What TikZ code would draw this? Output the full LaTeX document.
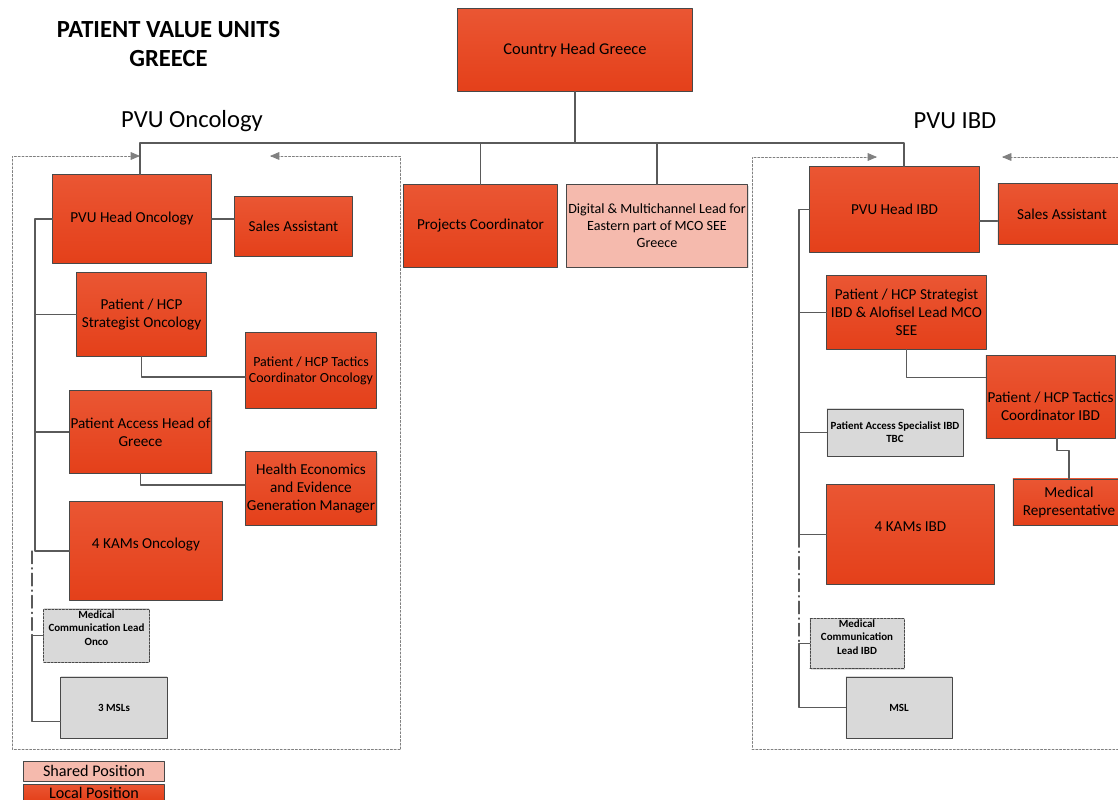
\documentclass[tikz,border=0pt]{standalone}
\usepackage{fontspec}
\setmainfont{Carlito}
\usetikzlibrary{arrows}
\usetikzlibrary{shadows}

\definecolor{pvutop}{HTML}{EA5633}
\definecolor{pvubot}{HTML}{E4401A}
\definecolor{pvushared}{HTML}{F5BAAD}
\definecolor{pvugray}{HTML}{D9D9D9}
\definecolor{pvuline}{HTML}{5A5A5A}

\begin{document}
\begin{tikzpicture}[line cap=round,line join=round,>=triangle 45,x=0.025cm,y=-0.025cm,
  local/.style={draw=pvuline!80!black, line width=0.7pt, top color=pvutop, bottom color=pvubot, align=center, inner sep=1pt, font=\fontsize{10.8}{12.8}\selectfont, drop shadow={shadow xshift=1pt, shadow yshift=-1pt, opacity=0.25}},
  shared/.style={local, top color=pvushared, bottom color=pvushared},
  vacant/.style={local, top color=pvugray, bottom color=pvugray, font=\fontsize{7.8}{9.4}\selectfont\bfseries},
  interim/.style={vacant, dash pattern=on 1.5pt off 1pt},
  con/.style={draw=pvuline, line width=0.9pt},
  unitframe/.style={draw=gray, line width=0.5pt, dash pattern=on 1.5pt off 1.2pt},
  dotline/.style={con, dash pattern=on 9pt off 3pt on 0.8pt off 3pt}]
\useasboundingbox (0,0) rectangle (1118,800);

\node[font=\fontsize{17.5}{20.6}\selectfont\bfseries, align=center] (ttl) at (168.5,44) {PATIENT VALUE UNITS\\GREECE};
\node[font=\fontsize{17.5}{20}\selectfont] (oncunit) at (192,121) {PVU Oncology};
\node[font=\fontsize{17.5}{20}\selectfont] (ibdunit) at (955,121) {PVU IBD};

\draw[unitframe,->] (400,749) -- (12,749) -- (12,156) -- (140,156);
\draw[unitframe,->] (400,749) -- (400,156) -- (270,156);
\draw[unitframe,->] (1130,749) -- (752,749) -- (752,157) -- (877,157);
\draw[unitframe,->] (1130,157) -- (1002,157);

\node[local, minimum width=5.85cm, minimum height=2.05cm, font=\fontsize{11.7}{14}\selectfont] (country) at (575,50) {Country Head Greece};
\node[local, minimum width=3.825cm, minimum height=2.05cm] (projects) at (480.5,226) {Projects Coordinator};
\node[shared, minimum width=4.4cm, minimum height=2.05cm, font=\fontsize{10}{12}\selectfont] (digital) at (657,226) {Digital \& Multichannel Lead for\\Eastern part of MCO SEE\\Greece};

\node[local, minimum width=3.95cm, minimum height=2.2cm] (onchead) at (132,219) {PVU Head Oncology};
\node[local, minimum width=2.925cm, minimum height=1.475cm] (oncsales) at (293.5,226.5) {Sales Assistant};
\node[local, minimum width=3.225cm, minimum height=2.075cm] (oncstrat) at (141.5,314.5) {Patient / HCP\\Strategist Oncology};
\node[local, minimum width=3.25cm, minimum height=1.875cm, font=\fontsize{9.9}{11.4}\selectfont] (onctact) at (311,370.5) {Patient / HCP Tactics\\Coordinator Oncology};
\node[local, minimum width=3.525cm, minimum height=2.05cm] (oncaccess) at (140.5,432) {Patient Access Head of\\Greece};
\node[local, minimum width=3.25cm, minimum height=1.825cm] (oncheor) at (311,488.5) {Health Economics\\and Evidence\\Generation Manager};
\node[local, minimum width=3.8cm, minimum height=2.45cm, text depth=11pt] (onckam) at (146,551) {4 KAMs Oncology};
\node[interim, minimum width=2.625cm, minimum height=1.325cm, text depth=10.6pt] (oncmedcom) at (96.5,635.5) {Medical\\Communication Lead\\Onco};
\node[vacant, minimum width=2.65cm, minimum height=1.525cm] (oncmsl) at (114,707.5) {3 MSLs};

\node[local, minimum width=4.225cm, minimum height=2.125cm] (ibdhead) at (894.5,209.5) {PVU Head IBD};
\node[local, minimum width=3.2cm, minimum height=1.5cm] (ibdsales) at (1062,214) {Sales Assistant};
\node[local, minimum width=3.975cm, minimum height=1.825cm] (ibdstrat) at (906.5,312.5) {Patient / HCP Strategist\\IBD \& Alofisel Lead MCO\\SEE};
\node[local, minimum width=3.225cm, minimum height=2.05cm, text height=33pt] (ibdtact) at (1050.5,397) {Patient / HCP Tactics\\Coordinator IBD};
\node[local, minimum width=2.8cm, minimum height=1.15cm] (ibdrep) at (1069,502) {Medical\\Representative};
\node[vacant, minimum width=3.4cm, minimum height=1.175cm] (ibdaccess) at (895,432.5) {Patient Access Specialist IBD\\TBC};
\node[local, minimum width=4.175cm, minimum height=2.475cm, text depth=11.4pt] (ibdkam) at (910.5,534.5) {4 KAMs IBD};
\node[interim, minimum width=2.35cm, minimum height=1.175cm, text depth=9.2pt] (ibdmedcom) at (857,643.5) {Medical\\Communication\\Lead IBD};
\node[vacant, minimum width=2.65cm, minimum height=1.525cm] (ibdmsl) at (899,707.5) {MSL};

\node[shared, minimum width=3.5cm, minimum height=0.5cm, font=\fontsize{11.5}{13}\selectfont] (kshared) at (94,771) {Shared Position};
\node[local, minimum width=3.5cm, minimum height=0.425cm, font=\fontsize{11.5}{13}\selectfont] (klocal) at (94,792.5) {Local Position};

\coordinate (busL) at (140,143);
\coordinate (busR) at (904,143);
\draw[con] (country) -- (country |- busL);
\draw[con] (onchead.north -| busL) -- (busL) -- (busR) -- (ibdhead.north -| busR);
\draw[con] (projects) -- (projects |- busL);
\draw[con] (digital) -- (digital |- busL);

\coordinate (onsp) at (35,0);
\coordinate (onsp2) at (32,0);
\coordinate (onmslin) at ([yshift=-10pt]oncmsl.west);
\draw[con] (onchead.west) -| (onsp |- onckam.west) -- (onckam.west);
\draw[con] (oncstrat.west) -- (oncstrat.west -| onsp);
\draw[con] (oncaccess.west) -- (oncaccess.west -| onsp);
\draw[dotline] (onsp2 |- onckam.west) -- (onsp2 |- oncmedcom.west);
\draw[con] (oncmedcom.west) -| (onsp2 |- onmslin) -- (onmslin);
\draw[con] (onchead.east) -- (onchead.east -| oncsales.west);
\draw[con] (oncstrat.south) |- ([yshift=-4.6pt]onctact.west);
\draw[con] (oncaccess.south) |- ([yshift=2.5pt]oncheor.west);

\coordinate (ibsp) at (799,0);
\coordinate (ibsain) at ([yshift=-5pt]ibdsales.west);
\draw[con] (ibdhead.west) -| (ibsp |- ibdkam.west) -- (ibdkam.west);
\draw[con] (ibdstrat.west) -- (ibdstrat.west -| ibsp);
\draw[con] (ibdaccess.west) -- (ibdaccess.west -| ibsp);
\draw[dotline] (ibsp |- ibdkam.west) -- (ibsp |- ibdmedcom.west);
\draw[con] (ibdmedcom.west) -| (ibsp |- ibdmsl.west) -- (ibdmsl.west);
\draw[con] (ibsain) -- (ibsain -| ibdhead.east);
\draw[con] (ibdstrat.south) |- ([yshift=14pt]ibdtact.west);
\draw[con] ([xshift=4.6pt]ibdtact.south) -- ++(0,12) -| (ibdrep.north);
\end{tikzpicture}
\end{document}
